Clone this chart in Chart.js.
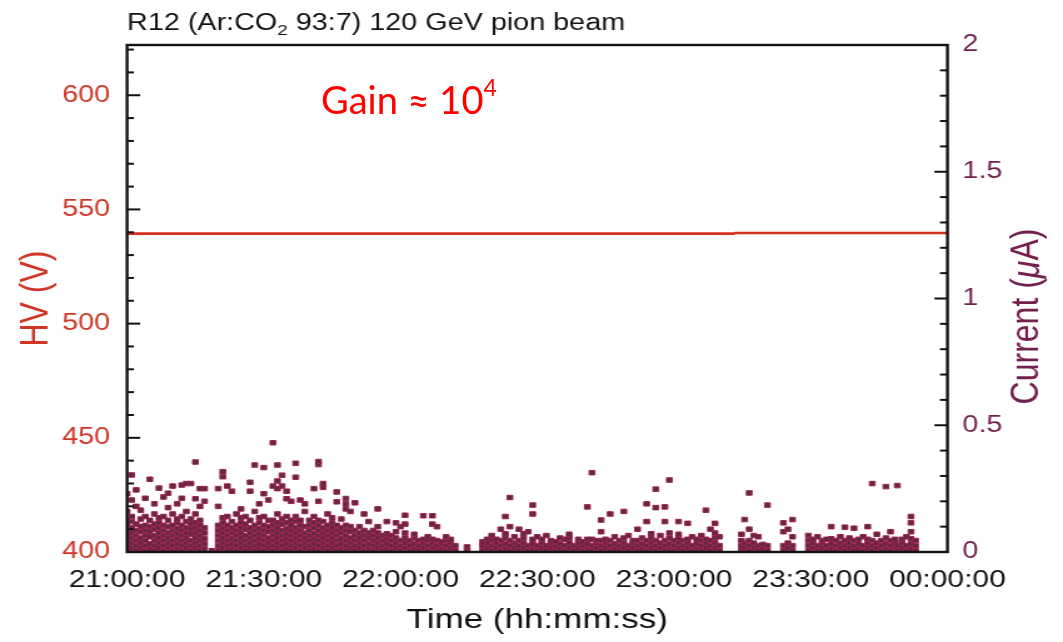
<!DOCTYPE html>
<html>
<head>
<meta charset="utf-8">
<script src="https://cdn.jsdelivr.net/npm/chart.js@4.4.1/dist/chart.umd.min.js"></script>
<style>
  html,body{margin:0;padding:0;background:#fff;}
  #wrap{position:relative;width:1063px;height:642px;overflow:hidden;}
  #c{display:block;width:1063px;height:642px;}
  #gain{position:absolute;left:321px;top:80px;font-family:Lato,"Open Sans",sans-serif;font-size:38px;line-height:38px;color:#ff0000;white-space:nowrap;}
  #gain sup{font-size:23px;position:relative;top:-4px;vertical-align:top;line-height:23px;}
</style>
</head>
<body>
<div id="wrap">
  <canvas id="c" width="850" height="642" style="width:1063px;height:642px"></canvas>
  <div id="gain">Gain ≈ 10<sup>4</sup></div>
</div>
<script>
// ---------- data ----------
// time in minutes after 21:00:00
const xTickMinutes = [0, 30, 60, 90, 120, 150, 180];
const xTickLabels = ['21:00:00', '21:30:00', '22:00:00', '22:30:00', '23:00:00', '23:30:00', '00:00:00'];
const hvTickValues = [400, 450, 500, 550, 600];
const hvTickLabels = ['400', '450', '500', '550', '600'];
const currentTickValues = [0, 0.5, 1, 1.5, 2];
const currentTickLabels = ['0', '0.5', '1', '1.5', '2'];

// HV (V)
const hvTimes = [0, 30, 60, 90, 120, 133, 133.5, 150, 180];
const hvValues = [539.4, 539.4, 539.4, 539.4, 539.4, 539.4, 539.7, 539.7, 539.7];

// Current (uA): [minute, [readings]]
const currentSegA = [
  [0, [0.005,0.025,0.045,0.065,0.085,0.105,0.125,0.16,0.23]],
  [1, [0.015,0.035,0.055,0.075,0.095,0.12,0.14,0.205,0.304]],
  [2, [0.005,0.025,0.045,0.065,0.085,0.11,0.18,0.245]],
  [3, [0.015,0.035,0.055,0.08,0.1,0.13,0.165]],
  [4, [0.005,0.025,0.045,0.065,0.085,0.105,0.14,0.212]],
  [5, [0.012,0.032,0.06,0.08,0.1,0.125,0.287]],
  [6, [0.005,0.025,0.045,0.065,0.09,0.11,0.15,0.19]],
  [7, [0.015,0.035,0.055,0.075,0.095,0.115,0.135,0.252]],
  [8, [0.005,0.025,0.045,0.065,0.085,0.105,0.14,0.217]],
  [9, [0.015,0.035,0.055,0.075,0.1,0.125,0.175,0.232]],
  [10, [0.005,0.025,0.045,0.065,0.085,0.105,0.15,0.26]],
  [11, [0.012,0.032,0.052,0.072,0.092,0.115,0.13,0.19]],
  [12, [0.005,0.025,0.045,0.065,0.085,0.105,0.14,0.212,0.264]],
  [13, [0.015,0.035,0.055,0.075,0.095,0.12,0.16,0.27]],
  [14, [0.005,0.025,0.045,0.07,0.09,0.11,0.13,0.27]],
  [15, [0.015,0.035,0.055,0.075,0.095,0.115,0.15,0.21,0.355]],
  [16, [0.005,0.025,0.045,0.065,0.085,0.105,0.125,0.18,0.25]],
  [17, [0.012,0.032,0.052,0.075,0.095,0.2,0.25]],
  [18.6, [0.005]]
];
const currentSegB = [
  [20, [0.005,0.025,0.045,0.065,0.085,0.105,0.18,0.25]],
  [21, [0.015,0.035,0.055,0.075,0.095,0.115,0.135,0.297,0.317]],
  [22, [0.005,0.025,0.045,0.065,0.085,0.105,0.14,0.26]],
  [23, [0.012,0.032,0.052,0.075,0.095,0.12,0.24]],
  [24, [0.005,0.025,0.045,0.065,0.085,0.105,0.15]],
  [25, [0.015,0.035,0.055,0.075,0.095,0.115,0.135,0.17]],
  [26, [0.005,0.025,0.045,0.065,0.09,0.11,0.14]],
  [27, [0.015,0.035,0.055,0.075,0.095,0.125,0.24,0.275]],
  [28, [0.005,0.025,0.045,0.065,0.085,0.105,0.16,0.343]],
  [29, [0.012,0.032,0.052,0.072,0.092,0.115,0.135,0.19]],
  [30, [0.005,0.025,0.045,0.065,0.085,0.105,0.14,0.23,0.333]],
  [31, [0.015,0.035,0.055,0.08,0.1,0.125,0.205]],
  [32, [0.005,0.025,0.045,0.065,0.085,0.105,0.125,0.26,0.431]],
  [33, [0.015,0.035,0.055,0.075,0.095,0.115,0.15,0.25,0.28,0.343]],
  [34, [0.005,0.025,0.045,0.065,0.085,0.11,0.13,0.26,0.303]],
  [35, [0.012,0.032,0.052,0.072,0.092,0.115,0.14,0.21,0.24]],
  [36, [0.005,0.025,0.045,0.065,0.085,0.105,0.125,0.2]],
  [37, [0.015,0.035,0.055,0.075,0.095,0.12,0.14,0.295,0.35]],
  [38, [0.005,0.025,0.045,0.065,0.085,0.105,0.125,0.205]],
  [39, [0.015,0.035,0.055,0.075,0.1,0.16,0.19]],
  [40, [0.005,0.025,0.045,0.065,0.085,0.105,0.125]],
  [41, [0.012,0.032,0.052,0.072,0.095,0.115,0.14,0.25]],
  [42, [0.005,0.025,0.045,0.065,0.085,0.105,0.125,0.2,0.345,0.357]],
  [43, [0.015,0.035,0.055,0.075,0.095,0.12,0.255,0.27]],
  [44, [0.005,0.025,0.045,0.065,0.085,0.105,0.15]],
  [45, [0.015,0.035,0.055,0.075,0.095,0.115,0.135]],
  [46, [0.005,0.025,0.045,0.065,0.085,0.105,0.198,0.237]],
  [47, [0.012,0.032,0.052,0.075,0.095,0.13]],
  [48, [0.005,0.025,0.045,0.065,0.085,0.105,0.17,0.19,0.211]],
  [49, [0.015,0.035,0.055,0.08,0.1,0.16]],
  [50, [0.005,0.025,0.045,0.065,0.085,0.194]],
  [51, [0.015,0.035,0.055,0.075,0.1]],
  [52, [0.005,0.025,0.045,0.065,0.085,0.15]],
  [53, [0.012,0.032,0.055,0.075,0.12]],
  [54, [0.005,0.025,0.045,0.065,0.085]],
  [55, [0.015,0.035,0.055,0.075,0.1,0.17]],
  [56, [0.005,0.025,0.045,0.065]],
  [57, [0.012,0.032,0.052,0.072,0.12]],
  [58, [0.005,0.025,0.045,0.065]],
  [59, [0.015,0.035,0.055,0.08,0.115]],
  [60, [0.005,0.025,0.045,0.1]],
  [61, [0.015,0.035,0.055,0.075,0.11,0.145]],
  [62, [0.005,0.025,0.045]],
  [63, [0.012,0.032,0.055,0.07]],
  [64, [0.005,0.025,0.045]],
  [65, [0.015,0.035,0.05,0.143]],
  [66, [0.005,0.025,0.045,0.06]],
  [67, [0.015,0.035,0.05,0.11,0.143]],
  [68, [0.005,0.025,0.045,0.1]],
  [69, [0.012,0.032,0.04]],
  [70, [0.005,0.025,0.045,0.06]],
  [71, [0.015,0.035,0.05]],
  [72, [0.005,0.025]],
  [74.6, [0.005,0.02]]
];
const currentSegC = [
  [78, [0.005,0.025,0.04]],
  [79, [0.015,0.035,0.05]],
  [80, [0.005,0.025,0.045,0.065]],
  [81, [0.015,0.035,0.05]],
  [82, [0.005,0.025,0.045,0.09]],
  [83, [0.012,0.032,0.055,0.072,0.14]],
  [84, [0.005,0.025,0.045,0.1,0.215]],
  [85, [0.015,0.035,0.06]],
  [86, [0.005,0.025,0.045,0.09]],
  [87, [0.015,0.035,0.055,0.072]],
  [88, [0.005,0.025,0.08]],
  [89, [0.012,0.032,0.05,0.15,0.185]],
  [90, [0.005,0.025,0.06]],
  [91, [0.015,0.035,0.05]],
  [92, [0.005,0.025,0.065]],
  [93, [0.015,0.035,0.045]],
  [94, [0.005,0.025,0.04]],
  [95, [0.012,0.032,0.055]],
  [96, [0.005,0.025,0.05]],
  [97, [0.015,0.035,0.055,0.07]],
  [98, [0.005,0.025]],
  [99, [0.015,0.035,0.05]],
  [100, [0.005,0.025,0.04]],
  [101, [0.012,0.032,0.05,0.178]],
  [102, [0.005,0.025,0.05,0.313]],
  [103, [0.015,0.035,0.045]],
  [104, [0.005,0.025,0.045,0.08,0.126]],
  [105, [0.015,0.035,0.05]],
  [106, [0.005,0.025,0.045,0.15]],
  [107, [0.012,0.032,0.06]],
  [108, [0.005,0.025,0.045]],
  [109, [0.015,0.035,0.055,0.16]],
  [110, [0.005,0.025,0.065]],
  [111, [0.015,0.035,0.045]],
  [112, [0.005,0.025,0.045,0.09]],
  [113, [0.012,0.032,0.055]],
  [114, [0.005,0.025,0.045,0.12,0.19]],
  [115, [0.015,0.035,0.055,0.072]],
  [116, [0.005,0.025,0.045,0.175,0.248]],
  [117, [0.015,0.035,0.065]],
  [118, [0.005,0.025,0.045,0.12,0.178]],
  [119, [0.012,0.032,0.055,0.075,0.284]],
  [120, [0.005,0.025,0.045]],
  [121, [0.015,0.035,0.055,0.07,0.12]],
  [122, [0.005,0.025,0.045]],
  [123, [0.015,0.035,0.05,0.113]],
  [124, [0.005,0.025,0.06]],
  [125, [0.012,0.032,0.05]],
  [126, [0.005,0.025,0.045,0.065]],
  [127, [0.015,0.035,0.05,0.165]],
  [128, [0.005,0.025,0.045,0.09]],
  [129, [0.015,0.035,0.055,0.075,0.113]],
  [130, [0.005,0.025,0.06]]
];
const currentSegD = [
  [134.8, [0.005,0.025,0.045,0.07]],
  [135.5, [0.015,0.035,0.128]],
  [136.5, [0.005,0.025,0.045,0.09,0.233]],
  [137.5, [0.015,0.035,0.065]],
  [138.5, [0.005,0.025,0.06]],
  [139.5, [0.012,0.03]],
  [140.5, [0.005,0.025,0.185]]
];
const currentSegE = [
  [144, [0.005,0.025,0.08,0.115]],
  [145, [0.015,0.035,0.09]],
  [146, [0.005,0.025,0.06,0.128]]
];
const currentSegF = [
  [149.5, [0.005,0.025,0.045,0.065]],
  [150.5, [0.015,0.035,0.05]],
  [151.5, [0.005,0.025,0.06]],
  [152.5, [0.015,0.035,0.045]],
  [153.5, [0.005,0.025,0.05]],
  [154.5, [0.012,0.032,0.052,0.1]],
  [155.5, [0.005,0.025,0.045]],
  [156.5, [0.015,0.035,0.06]],
  [157.5, [0.005,0.025,0.045,0.098]],
  [158.5, [0.015,0.035,0.055]],
  [159.5, [0.005,0.025,0.045,0.094]],
  [160.5, [0.012,0.032,0.05]],
  [161.5, [0.005,0.025,0.06]],
  [162.5, [0.015,0.035,0.05,0.1]],
  [163.5, [0.005,0.025,0.045,0.27]],
  [164.5, [0.015,0.035,0.07]],
  [165.5, [0.005,0.025,0.045]],
  [166.5, [0.012,0.032,0.055,0.258]],
  [167.5, [0.005,0.025,0.045,0.08]],
  [168.5, [0.015,0.035,0.05]],
  [169, [0.005,0.025,0.262]],
  [170, [0.015,0.035,0.05]],
  [171, [0.005,0.025,0.06]],
  [172, [0.012,0.032,0.052,0.08,0.115,0.14]],
  [173, [0.005,0.025,0.045]]
];

// ---------- build library tables ----------
const hvPoints = hvTimes.map((t, i) => ({x: t, y: hvValues[i]}));
const currentPoints = [];
[currentSegA, currentSegB, currentSegC, currentSegD, currentSegE, currentSegF].forEach(seg => {
  seg.forEach(([t, vals]) => vals.forEach(v => currentPoints.push({x: t, y: v})));
});

const FONT = '"Liberation Sans", Arial, Helvetica, sans-serif';
const HV_COLOR = '#cf3626';
const CUR_COLOR = '#74204f';

const decor = {
  id: 'decor',
  afterDatasetsDraw(chart) {
    const {ctx, chartArea: a, scales} = chart;
    ctx.save();
    ctx.strokeStyle = '#111';
    ctx.lineWidth = 2;
    const yL = scales.yHV;
    yL.ticks.forEach(t => {
      const y = yL.getPixelForValue(t.value);
      const major = hvTickValues.some(v => Math.abs(v - t.value) < 1e-6);
      ctx.beginPath(); ctx.moveTo(a.left, y); ctx.lineTo(a.left + (major ? 10.5 : 5.5), y); ctx.stroke();
    });
    const yR = scales.yI;
    yR.ticks.forEach(t => {
      const y = yR.getPixelForValue(t.value);
      const major = currentTickValues.some(v => Math.abs(v - t.value) < 1e-6);
      ctx.beginPath(); ctx.moveTo(a.right, y); ctx.lineTo(a.right - (major ? 10.5 : 6), y); ctx.stroke();
    });
    ctx.lineWidth = 2.4;
    ctx.strokeRect(a.left, a.top, a.right - a.left, a.bottom - a.top);
    ctx.restore();
  },
  afterDraw(chart) {
    const {ctx, chartArea: a} = chart;
    ctx.save();
    // title with subscript
    ctx.fillStyle = '#111';
    ctx.textBaseline = 'alphabetic';
    ctx.textAlign = 'left';
    const big = '23px ' + FONT, small = '15px ' + FONT;
    let x = a.left;
    const base = 29.5;
    ctx.font = big; ctx.fillText('R12 (Ar:CO', x, base); x += ctx.measureText('R12 (Ar:CO').width;
    ctx.font = small; ctx.fillText('2', x, base + 5); x += ctx.measureText('2').width;
    ctx.font = big; ctx.fillText(' 93:7) 120 GeV pion beam', x, base);
    // right axis title, reading bottom-to-top
    ctx.translate(chart.width - 28.4, (a.top + a.bottom) / 2 + 18);
    ctx.rotate(-Math.PI / 2);
    ctx.fillStyle = CUR_COLOR;
    ctx.textBaseline = 'middle';
    const f1 = '32px ' + FONT, f2 = 'italic 32px ' + FONT;
    ctx.font = f1; const w1 = ctx.measureText('Current (').width;
    ctx.font = f2; const w2 = ctx.measureText('\u03bc').width;
    ctx.font = f1; const w3 = ctx.measureText('A)').width;
    let sx = -(w1 + w2 + w3) / 2;
    ctx.font = f1; ctx.fillText('Current (', sx, 0); sx += w1;
    ctx.font = f2; ctx.fillText('\u03bc', sx, 0); sx += w2;
    ctx.font = f1; ctx.fillText('A)', sx, 0);
    ctx.restore();
  }
};

new Chart(document.getElementById('c').getContext('2d'), {
  type: 'scatter',
  data: {
    datasets: [
      {
        type: 'line', label: 'HV', data: hvPoints, yAxisID: 'yHV', xAxisID: 'x',
        borderColor: '#d8301e', borderWidth: 2.6, pointRadius: 0, showLine: true, fill: false, tension: 0
      },
      {
        label: 'Current', data: currentPoints, yAxisID: 'yI', xAxisID: 'x',
        pointStyle: 'rect', pointRadius: 3.2, pointHoverRadius: 3.2,
        backgroundColor: '#5e2a40', borderColor: '#a02150', borderWidth: 1
      }
    ]
  },
  options: {
    responsive: false, animation: false, devicePixelRatio: 1,
    layout: {padding: {top: 45, left: 0, right: 0, bottom: 0}},
    plugins: {legend: {display: false}, tooltip: {enabled: false}, title: {display: false}},
    scales: {
      x: {
        type: 'linear', position: 'bottom', min: 0, max: 180,
        grid: {display: false, drawTicks: false}, border: {display: false},
        ticks: {
          stepSize: 30, autoSkip: false, maxRotation: 0, padding: 14, color: '#111',
          font: {family: FONT, size: 24},
          callback: v => { const i = xTickMinutes.indexOf(v); return i >= 0 ? xTickLabels[i] : ''; }
        },
        title: {display: true, text: 'Time (hh:mm:ss)', color: '#111', font: {family: FONT, size: 28}, padding: {top: 0, bottom: 5}},
        afterFit: s => { s.height = 90; }
      },
      yHV: {
        type: 'linear', position: 'left', min: 400, max: 622,
        grid: {display: false, drawTicks: false}, border: {display: false},
        ticks: {
          stepSize: 10, includeBounds: false, autoSkip: false, padding: 13.5, color: HV_COLOR,
          font: {family: FONT, size: 23},
          callback: v => { const i = hvTickValues.findIndex(h => Math.abs(h - v) < 1e-6); return i >= 0 ? hvTickLabels[i] : ''; }
        },
        title: {display: true, text: 'HV (V)', color: HV_COLOR, font: {family: FONT, size: 32}, padding: {top: 10, bottom: 0}},
        afterFit: s => { s.width = 101.6; }
      },
      yI: {
        type: 'linear', position: 'right', min: 0, max: 2,
        grid: {display: false, drawTicks: false}, border: {display: false},
        ticks: {
          stepSize: 0.1, includeBounds: false, autoSkip: false, padding: 12, color: CUR_COLOR,
          font: {family: FONT, size: 23},
          callback: v => { const i = currentTickValues.findIndex(c => Math.abs(c - v) < 1e-6); return i >= 0 ? currentTickLabels[i] : ''; }
        },
        afterFit: s => { s.width = 92.4; }
      }
    }
  },
  plugins: [decor]
});
</script>
</body>
</html>
